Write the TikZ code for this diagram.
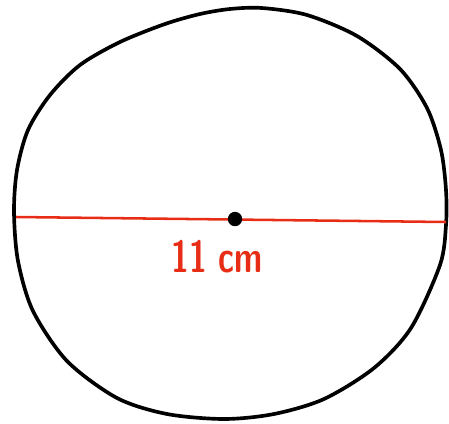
\documentclass[tikz,border=0pt]{standalone}
\usepackage{tikz}
\usetikzlibrary{positioning,calc}
\definecolor{clrR}{RGB}{232,45,22}
\tikzset{
  rim/.style={draw=black,line width=2.6pt},
  diam/.style={draw=clrR,line width=1.8pt},
  centre/.style={circle,fill=black,inner sep=0pt,minimum size=0.36cm},
  measure/.style={text=clrR,font=\fontsize{32}{34}\selectfont\sffamily\bfseries,inner sep=0pt}
}
\begin{document}
\begin{tikzpicture}[x=0.025cm,y=-0.025cm]
  \useasboundingbox (0,0) rectangle (449,423);

  % hand-drawn outline
  \draw[rim] plot[smooth cycle] coordinates {
    (230,9) (262,8) (307,15) (357,36) (400,69) (427,108) (441,150)
    (446,190) (446,225) (440,265) (411,328) (374,368) (324,399) (274,414)
    (224,419) (167,414) (117,398) (67,361) (33,311) (18,261) (14,212)
    (17,170) (28,130) (50,95) (80,65) (120,42) (165,24) (200,14)};

  \coordinate (west) at (16,217);
  \coordinate (east) at (446,222);
  \draw[diam] (west) -- (east);

  \node[centre] (mid) at (235,219) {};
  \node[measure] (len) at (217,257) {\scalebox{0.72}[1]{11 cm}};
\end{tikzpicture}
\end{document}
